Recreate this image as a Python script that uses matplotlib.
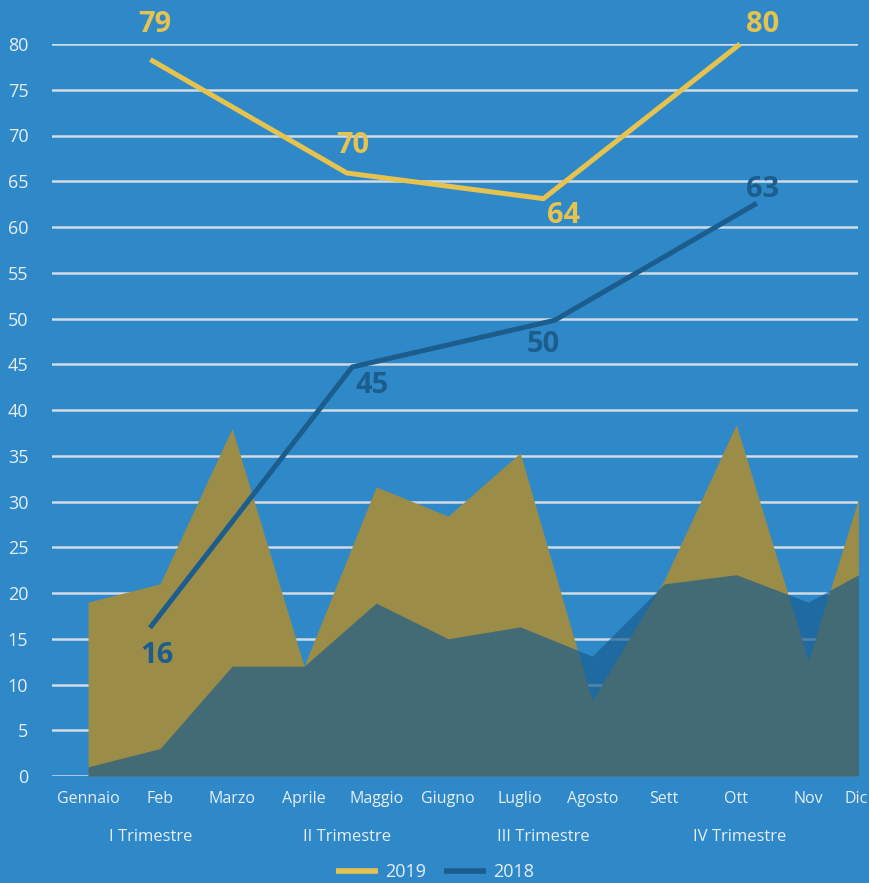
import matplotlib
matplotlib.use("Agg")
import matplotlib.pyplot as plt
from matplotlib.lines import Line2D

# ---------------- data ----------------
months = ["Gennaio", "Feb", "Marzo", "Aprile", "Maggio", "Giugno",
          "Luglio", "Agosto", "Sett", "Ott", "Nov", "Dic"]
area_2019 = [19, 21, 38, 12, 31.6, 28.4, 35.3, 8.2, 21.4, 38.4, 12.6, 38]
area_2018 = [1, 3, 12, 12, 18.9, 15, 16.3, 13.1, 21, 22, 19, 23.3]

quarters = ["I Trimestre", "II Trimestre", "III Trimestre", "IV Trimestre"]
line_2019 = [78.3, 65.9, 63.1, 80.0]
line_2018 = [16.2, 44.7, 49.8, 62.6]
labels_2019 = ["79", "70", "64", "80"]
labels_2018 = ["16", "45", "50", "63"]

series_names = ["2019", "2018"]
yticks = list(range(0, 81, 5))

# ---------------- style ----------------
BG = "#2f89c9"
GOLD_AREA = "#9b8c48"
AREA18 = "#185b8c"
GOLD_LINE = "#e6c24f"
BLUE_LINE = "#1c5d8d"
TXT = "#e6eef6"
GRID = "#d0dbe6"
FONT = ["Open Sans", "DejaVu Sans"]

plt.rcParams["font.family"] = FONT

fig = plt.figure(figsize=(8.7, 8.83), dpi=100, facecolor=BG)
ax = fig.add_axes([52 / 870, 1 - 776 / 883, (858 - 52) / 870, (776 - 44) / 883])
ax.set_facecolor(BG)

x_m = list(range(len(months)))
xmax = 10.69
ax.set_xlim(-0.5, xmax)
ax.set_ylim(0, 80)

ax.set_axisbelow(True)
ax.set_yticks(yticks)
ax.yaxis.grid(True, color=GRID, linewidth=1.8)
ax.xaxis.grid(False)

ax.fill_between(x_m, 0, area_2019, color=GOLD_AREA, linewidth=0, zorder=2)
ax.fill_between(x_m, 0, area_2018, color=AREA18, alpha=0.67, linewidth=0, zorder=3)

for s in ax.spines.values():
    s.set_visible(False)
ax.tick_params(axis="both", length=0, colors=TXT)
ax.tick_params(axis="y", labelsize=13, pad=17)
tick_pos = x_m[:11] + [xmax - 0.02]
ax.set_xticks(tick_pos)
ax.set_xticklabels(months, fontsize=11.5, color=TXT)
ax.tick_params(axis="x", pad=11)
for lab in ax.get_yticklabels():
    lab.set_color(TXT)

# quarter axis (2019 line + quarter labels)
axq = ax.twiny()
axq.set_xlim(-0.5, 3.6)
axq.set_ylim(0, 80)
for s in axq.spines.values():
    s.set_visible(False)
x_q = list(range(len(quarters)))
axq.set_xticks(x_q)
axq.set_xticklabels(quarters, fontsize=12, color=TXT)
axq.tick_params(axis="x", length=0, labelbottom=True, labeltop=False,
                bottom=False, top=False, pad=38)
axq.plot(x_q, line_2019, color=GOLD_LINE, linewidth=3.6, clip_on=False,
         solid_capstyle="butt", zorder=5)

# second quarter axis for 2018 line
axb = ax.twiny()
axb.set_xlim(-0.484, 3.5)
axb.set_ylim(0, 80)
axb.axis("off")
axb.plot(x_q, line_2018, color=BLUE_LINE, linewidth=3.6, clip_on=False,
         solid_capstyle="butt", zorder=5)

off_2019 = [(5, 35), (6, 28), (20, -17), (23, 19)]
off_2018 = [(7, -28), (20, -19), (-11, -24), (6, 14)]
for xi, yi, t, o in zip(x_q, line_2019, labels_2019, off_2019):
    axq.annotate(t, (xi, yi), xytext=o, textcoords="offset pixels",
                 ha="center", va="center", fontsize=21, fontweight="bold",
                 color=GOLD_LINE, annotation_clip=False)
for xi, yi, t, o in zip(x_q, line_2018, labels_2018, off_2018):
    axb.annotate(t, (xi, yi), xytext=o, textcoords="offset pixels",
                 ha="center", va="center", fontsize=21, fontweight="bold",
                 color=BLUE_LINE, annotation_clip=False)

handles = [Line2D([], [], color=GOLD_LINE, linewidth=4, solid_capstyle="butt"),
           Line2D([], [], color=BLUE_LINE, linewidth=4, solid_capstyle="butt")]
leg = fig.legend(handles, series_names, loc="center", bbox_to_anchor=(0.5, 1 - 872 / 883),
                 ncol=2, frameon=False, fontsize=13, handlelength=2.3,
                 columnspacing=1.0, handletextpad=0.4)
for t in leg.get_texts():
    t.set_color(TXT)

fig.savefig("out.png", dpi=100, facecolor=BG)
